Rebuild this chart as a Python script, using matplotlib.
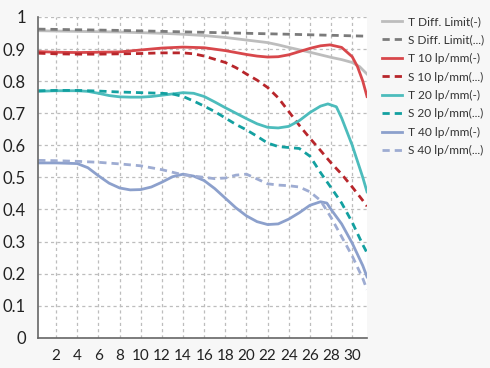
import matplotlib.pyplot as plt

# values (MTF chart)
x_t_diff = [0.3, 2, 4, 6, 8, 10, 12, 14, 16, 18, 20, 22, 23, 24, 26, 28, 29, 30, 30.7, 31.4]
t_diff = [0.957, 0.956, 0.955, 0.954, 0.953, 0.951, 0.949, 0.946, 0.942, 0.936, 0.928, 0.92, 0.913, 0.905, 0.89, 0.874, 0.867, 0.858, 0.845, 0.822]

x_s_diff = [0.3, 8, 16, 24, 31.4]
s_diff = [0.962, 0.958, 0.952, 0.946, 0.940]

x_t10 = [0.3, 2, 4, 6, 8, 10, 12, 14, 16, 18, 20, 21, 22, 23, 24, 25, 26, 27, 27.9, 29, 30, 30.5, 31, 31.4]
t10 = [0.892, 0.89, 0.889, 0.89, 0.891, 0.897, 0.903, 0.906, 0.904, 0.895, 0.883, 0.878, 0.875, 0.876, 0.882, 0.892, 0.902, 0.91, 0.913, 0.905, 0.876, 0.845, 0.8, 0.752]

x_s10 = [0.3, 2, 4, 6, 8, 10, 12, 14, 15, 16, 17, 18, 19, 20, 21, 22, 23, 24, 25, 26, 27, 28, 29, 30, 31, 31.4]
s10 = [0.887, 0.885, 0.884, 0.884, 0.885, 0.886, 0.888, 0.888, 0.885, 0.878, 0.868, 0.858, 0.842, 0.822, 0.803, 0.78, 0.748, 0.705, 0.662, 0.622, 0.584, 0.545, 0.51, 0.47, 0.428, 0.41]

x_t20 = [0.3, 2, 4, 5, 6, 7, 8, 9, 10, 11, 12, 13, 14, 15, 16, 17, 18, 19, 20, 21, 22, 23, 24, 25, 26, 27, 27.7, 28.5, 29, 30, 31, 31.4]
t20 = [0.768, 0.77, 0.77, 0.768, 0.762, 0.755, 0.751, 0.75, 0.75, 0.752, 0.756, 0.76, 0.764, 0.762, 0.752, 0.735, 0.717, 0.7, 0.683, 0.667, 0.656, 0.654, 0.659, 0.677, 0.702, 0.722, 0.729, 0.72, 0.685, 0.6, 0.5, 0.455]

x_s20 = [0.3, 2, 4, 6, 8, 10, 12, 13, 14, 15, 16, 17, 18, 19, 20, 21, 22, 23, 24, 25, 26, 27, 28, 29, 30, 31, 31.4]
s20 = [0.77, 0.771, 0.771, 0.769, 0.766, 0.764, 0.762, 0.76, 0.752, 0.738, 0.722, 0.705, 0.685, 0.665, 0.648, 0.628, 0.607, 0.596, 0.593, 0.59, 0.566, 0.515, 0.468, 0.42, 0.36, 0.29, 0.265]

x_t40 = [0.3, 2, 3, 4, 5, 6, 7, 8, 9, 10, 11, 12, 13, 14, 15, 16, 17, 18, 19, 20, 21, 22, 23, 24, 25, 26, 27, 27.6, 28, 29, 30, 31, 31.4]
t40 = [0.545, 0.545, 0.544, 0.543, 0.53, 0.505, 0.482, 0.467, 0.461, 0.462, 0.47, 0.485, 0.502, 0.51, 0.504, 0.49, 0.465, 0.435, 0.405, 0.38, 0.362, 0.353, 0.355, 0.37, 0.39, 0.413, 0.424, 0.42, 0.4, 0.355, 0.295, 0.225, 0.19]

x_s40 = [0.3, 2, 4, 6, 8, 10, 12, 14, 16, 17, 18, 19, 20, 21, 22, 23, 24, 25, 26, 27, 28, 29, 30, 31, 31.4]
s40 = [0.553, 0.552, 0.55, 0.547, 0.542, 0.536, 0.524, 0.508, 0.5, 0.496, 0.498, 0.507, 0.51, 0.495, 0.48, 0.476, 0.474, 0.47, 0.455, 0.428, 0.375, 0.315, 0.255, 0.185, 0.15]

x_ticks = list(range(2, 31, 2))
y_ticks = [0, 0.1, 0.2, 0.3, 0.4, 0.5, 0.6, 0.7, 0.8, 0.9, 1]
y_labels = ['0', '0.1', '0.2', '0.3', '0.4', '0.5', '0.6', '0.7', '0.8', '0.9', '1']

plt.rcParams['font.family'] = ['Lato', 'DejaVu Sans']

fig = plt.figure(figsize=(4.9, 3.68), dpi=100, facecolor='#f7f7f7')
ax = fig.add_axes([0.078, 0.082, 0.671, 0.872])
ax.set_facecolor('white')

dash = (0, (2.6, 1.8))
lw = 2.0
ax.plot(x_t_diff, t_diff, color='#bdbdbd', lw=lw, label='T Diff. Limit(-)')
ax.plot(x_s_diff, s_diff, color='#7b7b7b', lw=lw, ls=dash, label='S Diff. Limit(...)')
ax.plot(x_t10, t10, color='#d8474b', lw=lw, label='T 10 lp/mm(-)')
ax.plot(x_s10, s10, color='#b8262b', lw=lw, ls=dash, label='S 10 lp/mm(...)')
ax.plot(x_t20, t20, color='#4cbcbc', lw=lw, label='T 20 lp/mm(-)')
ax.plot(x_s20, s20, color='#13a0a0', lw=lw, ls=dash, label='S 20 lp/mm(...)')
ax.plot(x_t40, t40, color='#8ca0cc', lw=lw, label='T 40 lp/mm(-)')
ax.plot(x_s40, s40, color='#9eacd2', lw=lw, ls=dash, label='S 40 lp/mm(...)')

ax.set_xlim(0.3, 31.4)
ax.set_ylim(0, 1)
ax.set_xticks(x_ticks)
ax.set_yticks(y_ticks)
ax.set_yticklabels(y_labels)
ax.tick_params(length=0, colors='#222222')
ax.tick_params(axis='x', pad=8, labelsize=11)
ax.tick_params(axis='y', pad=9, labelsize=12)
ax.grid(True, color='#bdbdbd', ls=(0, (2.5, 2.5)), lw=0.9)
ax.set_axisbelow(True)
for s in ['top', 'right']:
    ax.spines[s].set_visible(False)
for s in ['left', 'bottom']:
    ax.spines[s].set_color('#666666')
    ax.spines[s].set_linewidth(1.2)

fig.legend(loc='upper left', bbox_to_anchor=(0.757, 0.985), frameon=False,
           fontsize=8.6, handlelength=1.7, handletextpad=0.5, labelspacing=0.62,
           labelcolor='#333333')

fig.savefig('out.png', dpi=100, facecolor=fig.get_facecolor())
